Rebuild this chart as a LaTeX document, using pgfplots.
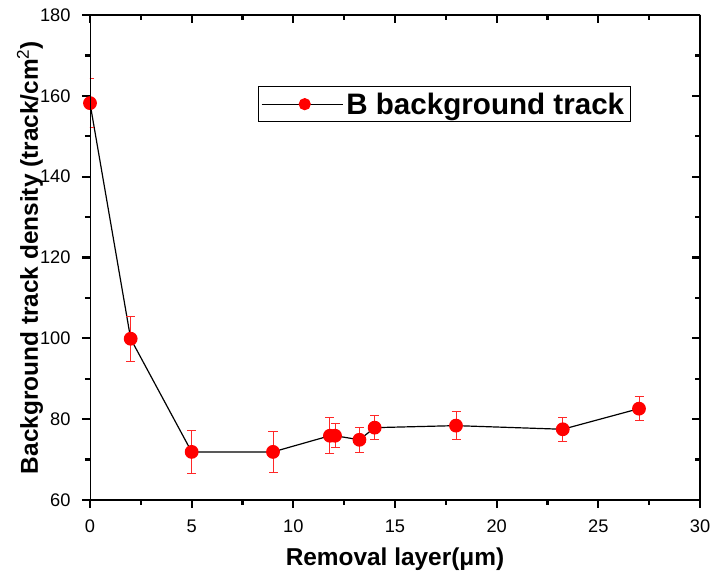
\documentclass[border=0pt]{standalone}
\usepackage{pgfplots}
\pgfplotsset{compat=1.18}
\usepackage{fontspec}
\setmainfont{Liberation Sans}
\definecolor{errred}{RGB}{255,40,40}
\begin{document}
\begin{tikzpicture}
\pgfplotsset{
  common/.style={
    width=610bp, height=485bp, scale only axis,
    at={(0,0)}, anchor=south west,
    xmin=0, xmax=30, ymin=60, ymax=180,
    xtick={0,5,...,30}, ytick={60,80,...,180},
    minor x tick num=1, minor y tick num=1,
    major tick length=8bp, minor tick length=5bp,
    every tick/.append style={line width=2.2pt, black},
    major tick style={line width=2.2pt, black},
    minor tick style={line width=2.2pt, black},
  }
}
\begin{axis}[common,
  tick align=outside, xtick pos=left, ytick pos=left,
  ticklabel style={font=\fontsize{18.3}{18.3}\selectfont},
  xticklabel style={yshift=-8bp},
  yticklabel style={xshift=-8bp},
  /pgf/number format/assume math mode=true,
  xlabel={\fontsize{24.5}{24.5}\selectfont\bfseries Removal layer(μm)},
  ylabel={\fontsize{24.5}{24.5}\selectfont\bfseries Background track density (track/cm\textsuperscript{\mdseries 2})},
  xlabel style={at={(axis description cs:0.5,0)}, anchor=base, yshift=-65bp},
  ylabel style={at={(axis description cs:-0.0984,0.5)}, anchor=center},
  legend style={at={(0.275,0.853)}, anchor=north west, draw=black, line width=0.8pt,
    font=\fontsize{29.7}{29.7}\selectfont\bfseries, inner xsep=3bp, inner ysep=3bp,
    nodes={inner sep=3bp}},
  legend cell align=left,
  legend image code/.code={
    \path (0bp,0bp) -- (81bp,0bp);
    \draw[black, line width=1pt] (9bp,0bp) -- (76bp,0bp);
    \fill[red] (43bp,0bp) circle (5.5bp);
  },
]
\addplot[black, line width=1.2pt, mark=*, mark size=6.3bp,
  mark options={fill=red, draw=red},
  error bars/.cd, y dir=both, y explicit,
  error bar style={color=errred, line width=0.9pt},
  error mark options={rotate=90, color=errred, mark size=4.5bp, line width=0.9pt}]
coordinates {
  (0,158.2) +- (0,6.0)
  (2,99.9) +- (0,5.5)
  (5,71.9) +- (0,5.4)
  (9,71.9) +- (0,5.0)
  (11.8,75.9) +- (0,4.5)
  (12.05,75.9) +- (0,3.0)
  (13.25,74.9) +- (0,3.1)
  (14,77.9) +- (0,3.0)
  (18,78.4) +- (0,3.5)
  (23.25,77.5) +- (0,3.0)
  (27,82.6) +- (0,3.0)
};
\addlegendentry{B background track}
\end{axis}
\begin{axis}[common,
  tick align=inside, xtick pos=right, ytick pos=right,
  xticklabels={}, yticklabels={}, axis line style={draw=none},
]
\draw[line width=2.2pt] (rel axis cs:0,0) rectangle (rel axis cs:1,1);
\end{axis}
\pgfresetboundingbox
\useasboundingbox (-90bp,-71bp) rectangle (621bp,500bp);
\end{tikzpicture}
\end{document}
